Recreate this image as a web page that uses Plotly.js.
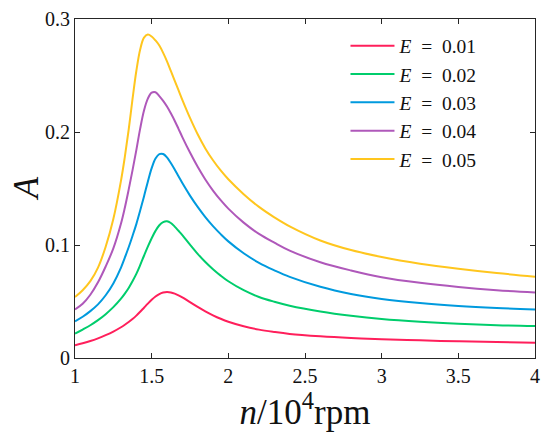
<!DOCTYPE html>
<html>
<head>
<meta charset="utf-8">
<script src="https://cdn.plot.ly/plotly-3.0.1.min.js"></script>
<style>html,body{margin:0;padding:0;background:#fff;}#chart{width:550px;height:435px;}</style>
</head>
<body>
<div id="chart"></div>
<script>
// Speed n (10^4 rpm), shared by every series
var speed = [1.0, 1.05, 1.1, 1.15, 1.2, 1.25,
  1.3, 1.325, 1.35, 1.375, 1.4, 1.425, 1.45, 1.475, 1.5, 1.525, 1.55, 1.575, 1.6, 1.625, 1.65, 1.675, 1.7,
  1.75, 1.8, 1.85, 1.9, 1.95, 2.0, 2.1, 2.2, 2.3, 2.4, 2.6, 2.8, 3.0, 3.25, 3.5, 3.75, 4.0];

// Amplitude A for each eccentricity E
var ampE1 = [0.0112, 0.0130, 0.0150, 0.0174, 0.0202, 0.0234,
  0.0272, 0.0294, 0.0318, 0.0345, 0.0375, 0.0409, 0.0445, 0.0481, 0.0515, 0.0544, 0.0566, 0.0579, 0.0584, 0.0580, 0.0570, 0.0555, 0.0537,
  0.0494, 0.0452, 0.0413, 0.0378, 0.0347, 0.0321, 0.0281, 0.0251, 0.0230, 0.0213, 0.0192, 0.0177, 0.0166, 0.0156, 0.0148, 0.0141, 0.0136];
var ampE2 = [0.0216, 0.0252, 0.0290, 0.0335, 0.0388, 0.0450,
  0.0525, 0.0570, 0.0620, 0.0680, 0.0745, 0.0822, 0.0905, 0.0985, 0.1060, 0.1125, 0.1175, 0.1203, 0.1210, 0.1195, 0.1163, 0.1126, 0.1088,
  0.1003, 0.0922, 0.0850, 0.0786, 0.0729, 0.0679, 0.0600, 0.0540, 0.0498, 0.0463, 0.0412, 0.0374, 0.0345, 0.0320, 0.0302, 0.0290, 0.0283];
var ampE3 = [0.0325, 0.0365, 0.0415, 0.0475, 0.0555, 0.0660,
  0.0800, 0.0888, 0.0980, 0.1080, 0.1185, 0.1305, 0.1430, 0.1560, 0.1680, 0.1765, 0.1805, 0.1805, 0.1775, 0.1725, 0.1668, 0.1608, 0.1548,
  0.1437, 0.1337, 0.1247, 0.1167, 0.1096, 0.1032, 0.0927, 0.0842, 0.0776, 0.0718, 0.0630, 0.0567, 0.0523, 0.0486, 0.0460, 0.0442, 0.0430];
var ampE4 = [0.0430, 0.0480, 0.0560, 0.0670, 0.0810, 0.0970,
  0.1190, 0.1330, 0.1490, 0.1660, 0.1840, 0.2030, 0.2190, 0.2295, 0.2348, 0.2352, 0.2318, 0.2275, 0.2225, 0.2165, 0.2100, 0.2028, 0.1955,
  0.1818, 0.1692, 0.1580, 0.1482, 0.1397, 0.1322, 0.1198, 0.1098, 0.1020, 0.0950, 0.0848, 0.0775, 0.0715, 0.0665, 0.0628, 0.0600, 0.0580];
var ampE5 = [0.0540, 0.0600, 0.0680, 0.0800, 0.0985, 0.1230,
  0.1570, 0.1780, 0.2020, 0.2290, 0.2540, 0.2730, 0.2835, 0.2862, 0.2845, 0.2810, 0.2765, 0.2700, 0.2625, 0.2540, 0.2455, 0.2370, 0.2285,
  0.2125, 0.1980, 0.1855, 0.1750, 0.1660, 0.1582, 0.1450, 0.1337, 0.1245, 0.1165, 0.1040, 0.0955, 0.0894, 0.0835, 0.0790, 0.0752, 0.0720];

var seriesNames = ['<i>E</i>&nbsp;&nbsp;=&nbsp;&nbsp;0.01', '<i>E</i>&nbsp;&nbsp;=&nbsp;&nbsp;0.02', '<i>E</i>&nbsp;&nbsp;=&nbsp;&nbsp;0.03', '<i>E</i>&nbsp;&nbsp;=&nbsp;&nbsp;0.04', '<i>E</i>&nbsp;&nbsp;=&nbsp;&nbsp;0.05'];
var seriesColors = ['#FF1F5B', '#00CD6C', '#009ADE', '#AF58BA', '#FFC61E'];
var xTickVals = [1, 1.5, 2, 2.5, 3, 3.5, 4];
var xTickText = ['1', '1.5', '2', '2.5', '3', '3.5', '4'];
var yTickVals = [0, 0.1, 0.2, 0.3];
var yTickText = ['0', '0.1', '0.2', '0.3'];
var xTitle = '<i>n</i>/10<sup>4</sup>rpm';
var yTitle = '<i>A</i>';

var amps = [ampE1, ampE2, ampE3, ampE4, ampE5];
var serif = '"Liberation Serif", serif';

var traces = amps.map(function (a, i) {
  return {
    x: speed, y: a, type: 'scatter', mode: 'lines', name: seriesNames[i],
    line: {color: seriesColors[i], width: 2, shape: 'spline', smoothing: 1}
  };
});

var axisCommon = {
  showgrid: false, zeroline: false, showline: true, linecolor: '#262626', linewidth: 1,
  mirror: 'ticks', ticks: 'inside', ticklen: 5, tickwidth: 1, tickcolor: '#262626',
  tickfont: {family: serif, size: 20, color: '#111'}, tickmode: 'array'
};

var layout = {
  width: 550, height: 435,
  margin: {l: 75, r: 15, t: 19, b: 77},
  paper_bgcolor: '#fff', plot_bgcolor: '#fff',
  showlegend: true,
  legend: {x: 0.588, y: 0.978, xanchor: 'left', yanchor: 'top', bgcolor: 'rgba(0,0,0,0)',
    font: {family: serif, size: 19.5, color: '#111'}, itemwidth: 44, tracegroupgap: 0},
  xaxis: Object.assign({}, axisCommon, {
    range: [1, 4], tickvals: xTickVals, ticktext: xTickText,
    title: {text: xTitle, font: {family: serif, size: 35, color: '#111'}, standoff: 6}
  }),
  yaxis: Object.assign({}, axisCommon, {
    range: [0, 0.3], tickvals: yTickVals, ticktext: yTickText
  }),
  annotations: [{
    text: yTitle, xref: 'paper', yref: 'paper', x: -0.105, y: 0.5,
    xanchor: 'center', yanchor: 'middle', textangle: -90, showarrow: false,
    font: {family: serif, size: 35, color: '#111'}
  }]
};

Plotly.newPlot('chart', traces, layout, {displayModeBar: false, staticPlot: true});
</script>
</body>
</html>
